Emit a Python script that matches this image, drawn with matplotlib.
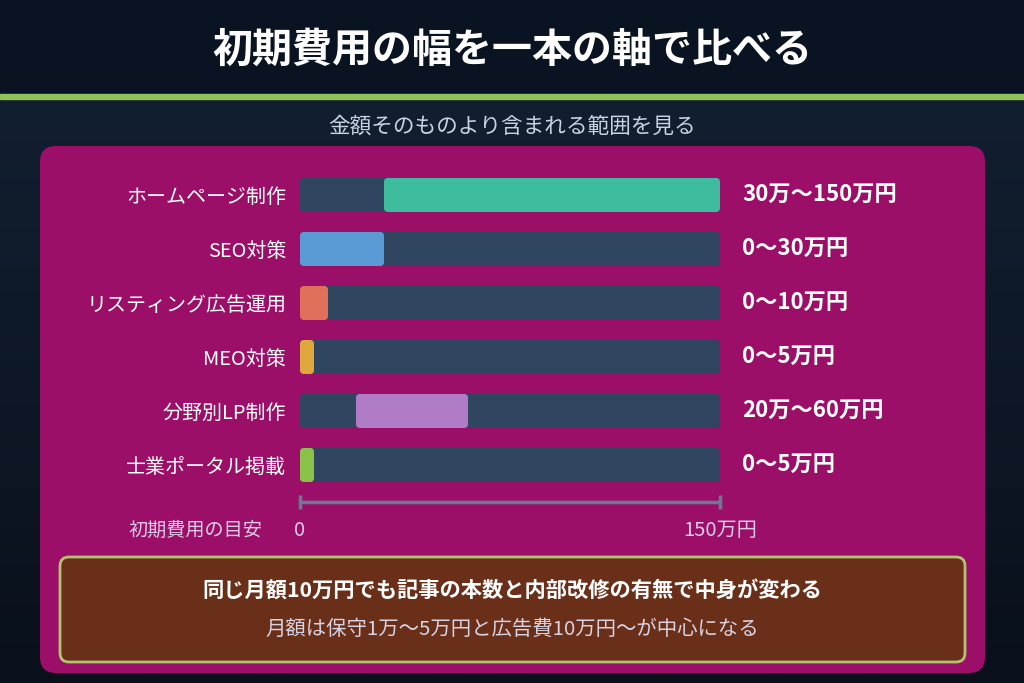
import matplotlib
matplotlib.use("Agg")
import matplotlib.pyplot as plt
import numpy as np
from matplotlib.patches import FancyBboxPatch
from matplotlib.transforms import blended_transform_factory

plt.rcParams['font.family'] = ['Noto Sans CJK JP', 'DejaVu Sans']

# data
title = "初期費用の幅を一本の軸で比べる"
subtitle = "金額そのものより含まれる範囲を見る"
categories = ["ホームページ制作", "SEO対策", "リスティング広告運用", "MEO対策", "分野別LP制作", "士業ポータル掲載"]
low = [30, 0, 0, 0, 20, 0]          # 万円
high = [150, 30, 10, 5, 60, 5]      # 万円
value_labels = ["30万〜150万円", "0〜30万円", "0〜10万円", "0〜5万円", "20万〜60万円", "0〜5万円"]
bar_colors = ["#3dbd9d", "#5b9bd5", "#e0705a", "#e0a83c", "#b07cc6", "#8bc34a"]
scale_max = 150
scale_labels = ["0", "150万円"]
scale_title = "初期費用の目安"
note_main = "同じ月額10万円でも記事の本数と内部改修の有無で中身が変わる"
note_sub = "月額は保守1万〜5万円と広告費10万円〜が中心になる"

W, H = 1024, 683
fig = plt.figure(figsize=(W / 100, H / 100), dpi=100)

# background in pixel coordinates
bg = fig.add_axes([0, 0, 1, 1])
bg.set_xlim(0, W)
bg.set_ylim(H, 0)
bg.axis("off")

grad = np.linspace(0, 1, 256)[:, None]
c1 = np.array([0x12, 0x1f, 0x30]) / 255
c2 = np.array([0x09, 0x10, 0x1b]) / 255
img = (c1[None, None, :] * (1 - grad[..., None]) + c2[None, None, :] * grad[..., None])
bg.imshow(img, extent=[0, W, H, 99], aspect="auto", zorder=0)
bg.add_patch(plt.Rectangle((0, 0), W, 94, color="#0a1321", zorder=1))
bg.add_patch(plt.Rectangle((0, 94), W, 5, color="#8fc35a", zorder=1))

bg.text(W / 2, 50, title, color="white", fontsize=28.8, fontweight="bold",
        ha="center", va="center", zorder=3)
bg.text(W / 2, 127, subtitle, color="#c8d2e0", fontsize=15.6, ha="center", va="center", zorder=3)

panel = FancyBboxPatch((40, 146), 945, 527, boxstyle="round,pad=0,rounding_size=16",
                       fc="#9c0f68", ec="none", zorder=2)
bg.add_patch(panel)

note = FancyBboxPatch((60, 557), 905, 105, boxstyle="round,pad=0,rounding_size=9",
                      fc="#6a2f18", ec="#b3c26f", lw=2, zorder=3)
bg.add_patch(note)
bg.text(W / 2, 591, note_main, color="white", fontsize=15.3, fontweight="bold",
        ha="center", va="center", zorder=4)
bg.text(W / 2, 629, note_sub, color="#d8d2e2", fontsize=14.7, ha="center", va="center", zorder=4)

# bar axes: x = 0..150万円
row_h = 54
top = 168
ax = fig.add_axes([300 / W, 1 - (top + row_h * len(categories)) / H,
                   420 / W, row_h * len(categories) / H])
ax.set_xlim(0, scale_max)
ax.set_ylim(len(categories) - 0.5, -0.5)
ax.patch.set_alpha(0)
for s in ax.spines.values():
    s.set_visible(False)
ax.set_xticks([])
ax.set_yticks(range(len(categories)), categories)
ax.tick_params(axis="y", length=0, pad=10, labelcolor="white", labelsize=14.4)

bar_h = 34 / row_h
px_per_x = 420 / scale_max
r = 4 / px_per_x
aspect = px_per_x / row_h


def rbar(x0, x1, y, color, z):
    p = FancyBboxPatch((x0, y - bar_h / 2), x1 - x0, bar_h,
                       boxstyle=f"round,pad=0,rounding_size={r}",
                       mutation_aspect=aspect, fc=color, ec="none", zorder=z)
    ax.add_patch(p)


for i, (lo, hi, col, lab) in enumerate(zip(low, high, bar_colors, value_labels)):
    rbar(0, scale_max, i, "#2f4560", 2)
    rbar(lo, hi, i, col, 3)
    ax.annotate(lab, xy=(scale_max, i), xytext=(22, 0), textcoords="offset pixels",
                ha="left", va="center", color="white", fontsize=16, fontweight="bold",
                annotation_clip=False)

# scale line
tr = blended_transform_factory(ax.transData, bg.transData)
axis_col = "#6a7a96"
bg.plot([0, scale_max], [502, 502], color=axis_col, lw=2.5, transform=tr,
        solid_capstyle="butt", zorder=4, clip_on=False)
for xv in [0, scale_max]:
    bg.plot([xv, xv], [495, 509], color=axis_col, lw=2.5, transform=tr,
            solid_capstyle="butt", zorder=4, clip_on=False)
for xv, lab in zip([0, scale_max], scale_labels):
    bg.text(xv, 530, lab, color="#dccbe8", fontsize=14.5, ha="center", va="center",
            transform=tr, zorder=4)
bg.text(262, 530, scale_title, color="#dccbe8", fontsize=13.8, ha="right", va="center", zorder=4)

fig.savefig("out.png", dpi=100)
